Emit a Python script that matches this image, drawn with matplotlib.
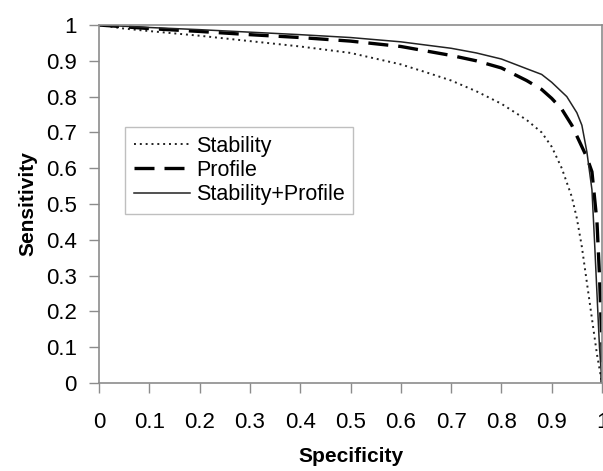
import matplotlib.pyplot as plt

plt.rcParams['font.family'] = ['Liberation Sans', 'DejaVu Sans']

# ROC curves
stab_x = [0, 0.05, 0.1, 0.2, 0.3, 0.4, 0.5, 0.6, 0.65, 0.7, 0.75, 0.8, 0.85,
          0.88, 0.9, 0.92, 0.94, 0.95, 0.96, 0.97, 0.98, 0.99, 1.0]
stab_y = [1.0, 0.99, 0.983, 0.97, 0.955, 0.94, 0.922, 0.89, 0.868, 0.845, 0.815,
          0.78, 0.735, 0.70, 0.66, 0.60, 0.52, 0.46, 0.38, 0.28, 0.18, 0.08, 0.0]

prof_x = [0, 0.05, 0.1, 0.2, 0.3, 0.4, 0.5, 0.6, 0.7, 0.75, 0.8, 0.85, 0.88,
          0.9, 0.92, 0.94, 0.95, 0.96, 0.97, 0.98, 0.99, 0.995, 1.0, 1.0]
prof_y = [1.0, 0.995, 0.99, 0.982, 0.973, 0.965, 0.955, 0.94, 0.915, 0.9, 0.88,
          0.845, 0.82, 0.795, 0.765, 0.72, 0.69, 0.66, 0.63, 0.59, 0.45, 0.3, 0.1, 0.0]

both_x = [0, 0.1, 0.2, 0.3, 0.4, 0.5, 0.6, 0.7, 0.75, 0.8, 0.85, 0.88, 0.9,
          0.93, 0.95, 0.96, 0.97, 0.98, 0.985, 0.99, 0.995, 1.0]
both_y = [1.0, 0.993, 0.987, 0.98, 0.973, 0.965, 0.953, 0.935, 0.922, 0.905,
          0.878, 0.862, 0.84, 0.80, 0.755, 0.72, 0.645, 0.54, 0.4, 0.25, 0.1, 0.0]

ticks = [0, 0.1, 0.2, 0.3, 0.4, 0.5, 0.6, 0.7, 0.8, 0.9, 1]
tick_labels = ['0', '0.1', '0.2', '0.3', '0.4', '0.5', '0.6', '0.7', '0.8', '0.9', '1']

fig = plt.figure(figsize=(6.03, 4.71), dpi=100)
ax = fig.add_axes([99/603, 88/471, 503/603, 358/471])

ax.plot(stab_x, stab_y, linestyle=(0, (1, 2)), color='#222222', lw=1.4, label='Stability')
ax.plot(prof_x, prof_y, linestyle=(0, (6, 3)), color='black', lw=2.4, label='Profile')
ax.plot(both_x, both_y, linestyle='-', color='#222222', lw=1.1, label='Stability+Profile')

ax.set_xlim(0, 1)
ax.set_ylim(0, 1)
ax.set_xticks(ticks)
ax.set_xticklabels(tick_labels)
ax.set_yticks(ticks)
ax.set_yticklabels(tick_labels)

for s in ax.spines.values():
    s.set_color('#8c8c8c')
    s.set_linewidth(1.2)
ax.tick_params(axis='both', direction='out', length=7, width=1, color='#8c8c8c',
               labelsize=16)
ax.tick_params(axis='x', pad=14)
ax.tick_params(axis='y', pad=9)

ax.set_xlabel('Specificity', fontsize=15, fontweight='bold', labelpad=10)
ax.set_ylabel('Sensitivity', fontsize=15, fontweight='bold', labelpad=6)

leg = ax.legend(loc='upper left', bbox_to_anchor=(26/503, (383-127)/358),
                fontsize=15.5, frameon=True, fancybox=False, handlelength=2.6,
                borderpad=0.4, labelspacing=0.15, handletextpad=0.3,
                borderaxespad=0)
leg.get_frame().set_edgecolor('#b0b0b0')
leg.get_frame().set_linewidth(1)

fig.savefig('out.png', dpi=100)
